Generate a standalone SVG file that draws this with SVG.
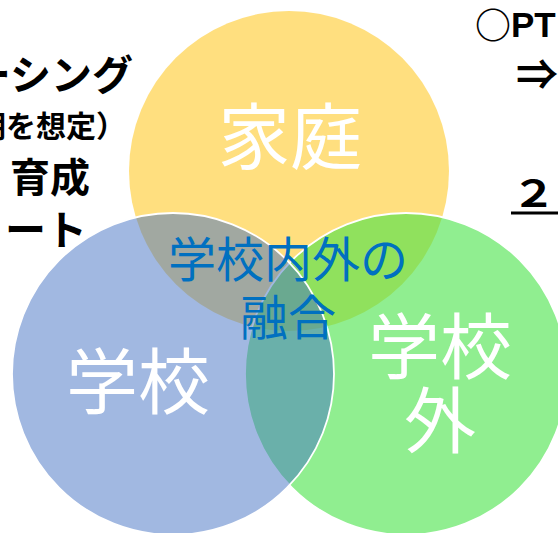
<svg xmlns="http://www.w3.org/2000/svg" width="558" height="533" viewBox="0 0 558 533">
<style>
.blk{font-family:"Noto Sans CJK JP","Noto Sans CJK SC",sans-serif;font-weight:bold;fill:#000}
.lat{font-family:"Liberation Sans",Arial,sans-serif;font-weight:bold;fill:#000}
.big{font-family:"Noto Sans CJK JP","Noto Sans CJK SC",sans-serif;fill:#fff;font-size:72px;text-anchor:middle}
.mid{font-family:"Noto Sans CJK JP","Noto Sans CJK SC",sans-serif;fill:#0070C0;font-size:48px;text-anchor:middle}
</style>
<rect width="558" height="533" fill="#fff"/>
<g id="left-text">
<text class="blk" x="133" y="90" font-size="41" text-anchor="end">ーシング</text>
<text class="blk" x="-24" y="137" font-size="30">期を想定）</text>
<text class="blk" x="10" y="192" font-size="40">育成</text>
<text class="blk" x="5" y="245" font-size="41">ート</text>
</g>
<g id="right-text">
<text class="blk" x="475" y="39" font-size="36">○</text>
<text class="lat" x="511" y="37" font-size="35">PT</text>
<text class="blk" x="516" y="90" font-size="42">⇒</text>
<text class="blk" transform="translate(511.5,207) scale(1.2,1)" x="0" y="0" font-size="37">２</text>
<line x1="511" y1="213" x2="558" y2="213" stroke="#000" stroke-width="3"/>
</g>
<g id="home">
<circle cx="289" cy="171" r="160" fill="#FFC000" fill-opacity="0.5"/>
</g>
<g id="outside">
<circle cx="406" cy="374" r="161" fill="#46E346" fill-opacity="0.6" stroke="#fff" stroke-width="1.8"/>
</g>
<g id="school">
<circle cx="173" cy="374" r="161" fill="#4472C4" fill-opacity="0.5" stroke="#fff" stroke-width="1.8"/>
</g>
<g id="labels">
<text class="big" x="290" y="163">家庭</text>
<text class="big" x="138" y="408">学校</text>
<text class="big" x="440" y="373">学校</text>
<text class="big" x="440" y="447">外</text>
<text class="mid" x="288" y="277">学校内外の</text>
<text class="mid" x="288" y="335">融合</text>
</g>
</svg>
